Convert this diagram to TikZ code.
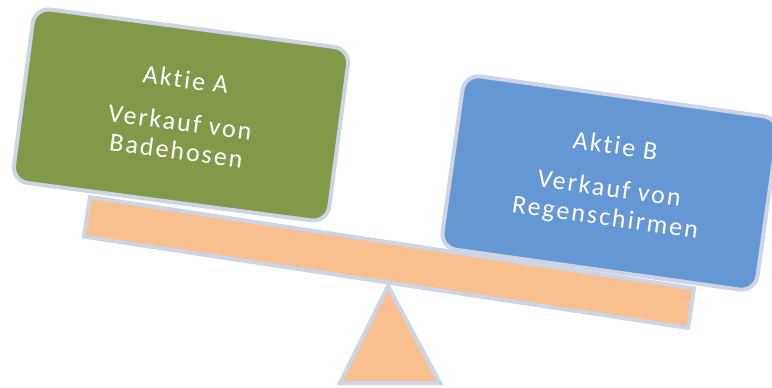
\documentclass[tikz,border=0pt]{standalone}
\usepackage{fontspec}
\setmainfont{Carlito}[LetterSpace=8,Ligatures=NoCommon]
\definecolor{greenc}{RGB}{131,153,74}
\definecolor{bluec}{RGB}{101,151,213}
\definecolor{plankc}{RGB}{249,192,143}
\definecolor{edgec}{RGB}{204,212,229}
\begin{document}
\begin{tikzpicture}[x=1pt,y=-1pt,
  panel/.style={draw=edgec, line width=4pt, rounded corners=16pt, minimum width=318pt, minimum height=175pt, inner sep=0pt, align=center, text=white, font=\fontsize{26}{29}\selectfont},
  plank/.style={draw=edgec, line width=4pt, fill=plankc, minimum width=611pt, minimum height=40pt, inner sep=0pt, rotate=-8.6}]
\useasboundingbox (0,0) rectangle (772,388);
\coordinate (apex) at (388,286);
\coordinate (bl) at (340,383);
\coordinate (br) at (440,383);
\draw[draw=edgec, line width=4pt, fill=plankc, line join=miter] (apex) -- (br) -- (bl) -- cycle;
\node[plank] (beam) at (389,262.5) {};
\node[panel, fill=greenc, rotate=-7.5] (a) at (181,115) {Aktie A\\[14pt]Verkauf von\\Badehosen};
\node[panel, fill=bluec, rotate=-8] (b) at (610,183) {Aktie B\\[14pt]Verkauf von\\Regenschirmen};
\end{tikzpicture}
\end{document}
